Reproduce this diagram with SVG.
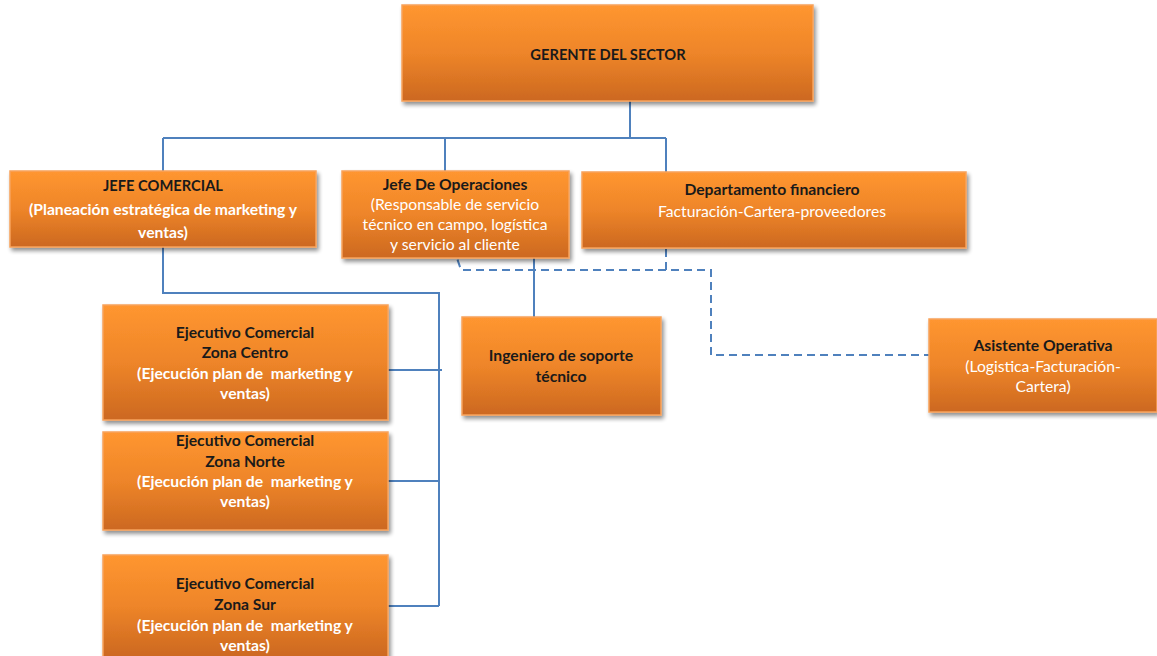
<svg xmlns="http://www.w3.org/2000/svg" width="1157" height="656" viewBox="0 0 1157 656">
<defs>
<linearGradient id="og" x1="0" y1="0" x2="0" y2="1">
<stop offset="0" stop-color="#FF9630"/>
<stop offset="0.5" stop-color="#EE8529"/>
<stop offset="1" stop-color="#CC6820"/>
</linearGradient>
<filter id="sh" x="-5%" y="-5%" width="115%" height="125%">
<feGaussianBlur in="SourceAlpha" stdDeviation="2"/>
<feOffset dx="2" dy="3" result="b"/>
<feComponentTransfer><feFuncA type="linear" slope="0.45"/></feComponentTransfer>
<feMerge><feMergeNode/><feMergeNode in="SourceGraphic"/></feMerge>
</filter>
</defs>
<style>
.box{fill:url(#og);stroke:#F7A35C;stroke-width:1.5;filter:url(#sh)}
text{font-family:Lato,"Open Sans","Liberation Sans",sans-serif;font-size:15.7px;text-anchor:middle;white-space:pre}
.cap{font-size:14.7px}
.b{font-weight:bold;fill:#1a1a1a}
.w{fill:#ffffff}
.wb{fill:#ffffff;font-weight:bold}
.ln{fill:none;stroke:#4F81BD;stroke-width:2}
.dl{fill:none;stroke:#4F81BD;stroke-width:2;stroke-dasharray:8 5}
</style>
<rect width="1157" height="656" fill="#ffffff"/>
<g id="connectors">
<path class="ln" d="M630 101V138M163 138H666M163 138V171M445 138V171M666 138V172"/>
<path class="ln" d="M163 247V293H439V606M388 370H442M388 481H439M388 606H439"/>
<path class="ln" d="M534 258V317"/>
<path class="dl" d="M666 249V270H711V355H929M666 270H461L457 258"/>
</g>
<g id="gerente"><rect class="box" x="402" y="5" width="411" height="96"/>
<text class="b cap" x="608" y="60">GERENTE DEL SECTOR</text></g>
<g id="jefe-comercial"><rect class="box" x="10" y="171" width="306" height="76"/>
<text class="b cap" x="163" y="191">JEFE COMERCIAL</text>
<text class="wb" x="163" y="215">(Planeación estratégica de marketing y</text>
<text class="wb" x="163" y="238">ventas)</text></g>
<g id="jefe-operaciones"><rect class="box" x="342" y="171" width="227" height="87"/>
<text class="b" x="455" y="190">Jefe De Operaciones</text>
<text class="w" x="455" y="210">(Responsable de servicio</text>
<text class="w" x="455" y="230">técnico en campo, logística</text>
<text class="w" x="455" y="250">y servicio al cliente</text></g>
<g id="departamento-financiero"><rect class="box" x="582" y="172" width="384" height="76"/>
<text class="b" x="772" y="195">Departamento financiero</text>
<text class="w" x="772" y="217">Facturación-Cartera-proveedores</text></g>
<g id="ingeniero"><rect class="box" x="462" y="317" width="199" height="98"/>
<text class="b" x="561" y="361">Ingeniero de soporte</text>
<text class="b" x="561" y="382">técnico</text></g>
<g id="asistente"><rect class="box" x="929" y="319" width="228" height="93"/>
<text class="b" x="1043" y="351">Asistente Operativa</text>
<text class="w" x="1043" y="372">(Logistica-Facturación-</text>
<text class="w" x="1043" y="392">Cartera)</text></g>
<g id="ejecutivo-centro"><rect class="box" x="103" y="305" width="285" height="115"/>
<text class="b" x="245" y="338">Ejecutivo Comercial</text>
<text class="b" x="245" y="358">Zona Centro</text>
<text class="wb" x="245" y="379">(Ejecución plan de  marketing y</text>
<text class="wb" x="245" y="399">ventas)</text></g>
<g id="ejecutivo-norte"><rect class="box" x="103" y="432" width="285" height="98"/>
<text class="b" x="245" y="446">Ejecutivo Comercial</text>
<text class="b" x="245" y="467">Zona Norte</text>
<text class="wb" x="245" y="487">(Ejecución plan de  marketing y</text>
<text class="wb" x="245" y="507">ventas)</text></g>
<g id="ejecutivo-sur"><rect class="box" x="103" y="555" width="285" height="102"/>
<text class="b" x="245" y="589">Ejecutivo Comercial</text>
<text class="b" x="245" y="610">Zona Sur</text>
<text class="wb" x="245" y="631">(Ejecución plan de  marketing y</text>
<text class="wb" x="245" y="651">ventas)</text></g>
</svg>
